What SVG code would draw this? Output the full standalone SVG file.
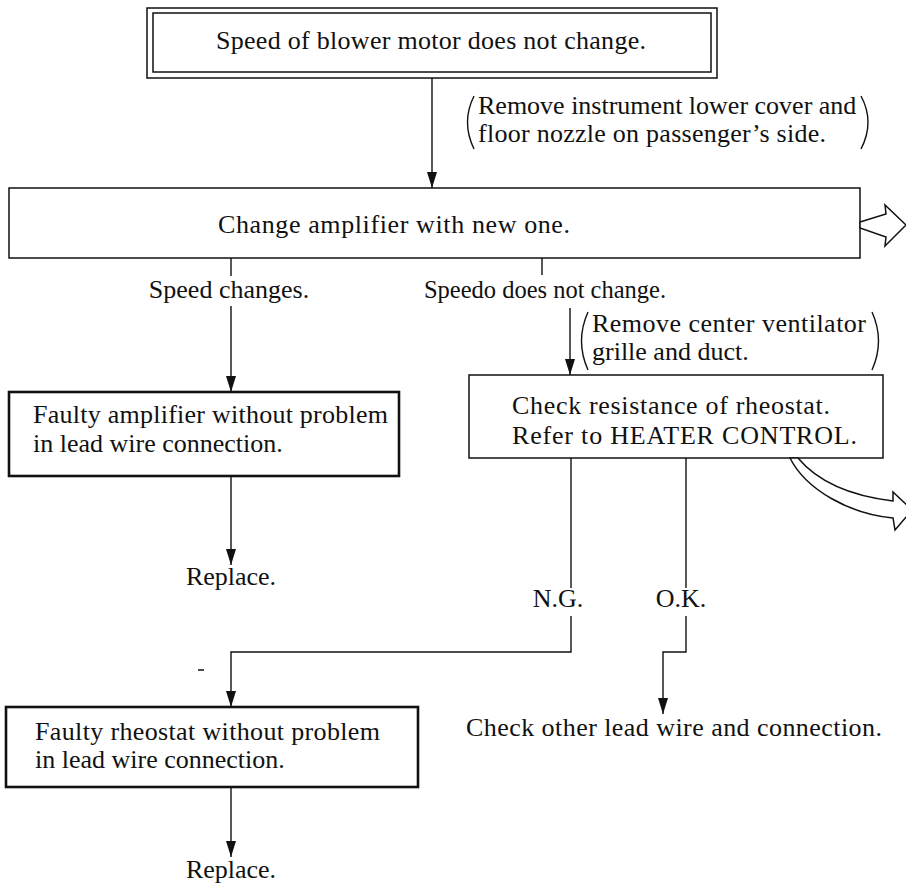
<svg xmlns="http://www.w3.org/2000/svg" width="906" height="893" viewBox="0 0 906 893">
<style>
text{font-family:"Liberation Serif","Times New Roman",serif;font-size:26px;fill:#111}
.m{text-anchor:middle}
.b{fill:none;stroke:#111;stroke-width:1.5}
.bt{fill:none;stroke:#111;stroke-width:2.6}
.c{fill:none;stroke:#111;stroke-width:1.4}
.h{fill:#fff;stroke:#111;stroke-width:1.5;stroke-linejoin:miter}
</style>
<defs>
<marker id="ah" viewBox="0 0 16 10" refX="16" refY="5" markerWidth="16" markerHeight="10" markerUnits="userSpaceOnUse" orient="auto">
<path d="M0,0 L16,5 L0,10 Z" fill="#111"/>
</marker>
</defs>
<rect width="906" height="893" fill="#fff"/>
<g id="n-start">
<rect class="b" x="147" y="8" width="570" height="70"/>
<rect class="b" x="153" y="13" width="558" height="59"/>
<text x="216" y="49" textLength="430" lengthAdjust="spacing">Speed of blower motor does not change.</text>
</g>
<g id="note1">
<path class="c" d="M474,96 Q461,122 474,149"/>
<path class="c" d="M861,96 Q875,122 861,149"/>
<text x="478" y="114">Remove instrument lower cover and</text>
<text x="478" y="142" textLength="348" lengthAdjust="spacing">floor nozzle on passenger’s side.</text>
</g>
<g id="n-change">
<rect class="b" x="9" y="188" width="851" height="70"/>
<text x="218" y="233" textLength="352" lengthAdjust="spacing">Change amplifier with new one.</text>
</g>
<g id="n-amp">
<rect class="bt" x="9" y="392" width="390" height="84"/>
<text x="33" y="423" textLength="355" lengthAdjust="spacing">Faulty amplifier without problem</text>
<text x="33" y="452">in lead wire connection.</text>
</g>
<g id="n-replace1"><text class="m" x="231" y="585">Replace.</text></g>
<g id="note2">
<path class="c" d="M588,312 Q575,341 588,370"/>
<path class="c" d="M872,312 Q885,341 872,370"/>
<text x="592" y="332" textLength="274" lengthAdjust="spacing">Remove center ventilator</text>
<text x="592" y="360">grille and duct.</text>
</g>
<g id="n-check">
<rect class="b" x="469" y="375" width="414" height="83"/>
<text x="512" y="414" textLength="318" lengthAdjust="spacing">Check resistance of rheostat.</text>
<text x="512" y="444" textLength="345" lengthAdjust="spacing">Refer to HEATER CONTROL.</text>
</g>
<g id="n-rheo">
<rect class="bt" x="6" y="707" width="412" height="80"/>
<text x="35" y="740" textLength="345" lengthAdjust="spacing">Faulty rheostat without problem</text>
<text x="35" y="768">in lead wire connection.</text>
</g>
<g id="n-replace2"><text class="m" x="231" y="878">Replace.</text></g>
<g id="n-other"><text x="466" y="736" textLength="416" lengthAdjust="spacing">Check other lead wire and connection.</text></g>
<g id="labels">
<text class="m" x="229" y="298">Speed changes.</text>
<text class="m" x="545" y="298" style="font-size:24.5px">Speedo does not change.</text>
<text class="m" x="558" y="607">N.G.</text>
<text class="m" x="681" y="607">O.K.</text>
</g>
<g id="connectors">
<line class="c" x1="432" y1="78" x2="432" y2="188" marker-end="url(#ah)"/>
<line class="c" x1="231" y1="258" x2="231" y2="276"/>
<line class="c" x1="231" y1="306" x2="231" y2="392" marker-end="url(#ah)"/>
<line class="c" x1="231" y1="476" x2="231" y2="565" marker-end="url(#ah)"/>
<line class="c" x1="542" y1="258" x2="542" y2="275"/>
<line class="c" x1="570" y1="308" x2="570" y2="375" marker-end="url(#ah)"/>
<line class="c" x1="571" y1="458" x2="571" y2="588"/>
<polyline class="c" points="571,616 571,652 231,652 231,707" marker-end="url(#ah)"/>
<line class="c" x1="686" y1="458" x2="686" y2="588"/>
<polyline class="c" points="686,616 686,652 663,652 663,714" marker-end="url(#ah)"/>
<line class="c" x1="231" y1="787" x2="231" y2="857" marker-end="url(#ah)"/>
<line x1="198" y1="670" x2="204" y2="670" stroke="#111" stroke-width="1.5"/>
<polygon class="h" points="860,222 886,214 885,205 906,225 885,246 886,237 860,228"/>
<path class="h" d="M790,458 C806,490 850,514 893,518 L895,530 L912,510 L893,492 L893,501 C852,496 818,482 798,458 Z"/>
</g>
</svg>
